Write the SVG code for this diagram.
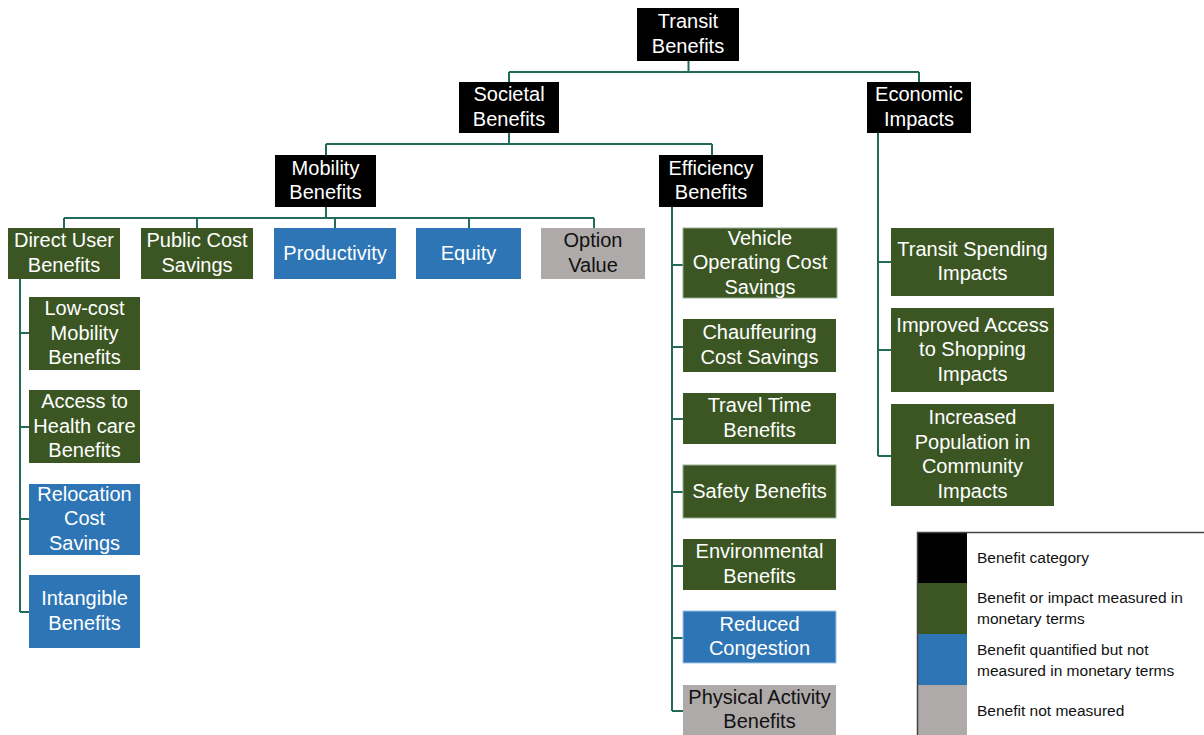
<svg xmlns="http://www.w3.org/2000/svg" width="1204" height="735" viewBox="0 0 1204 735">
<style>
  .blk { fill: #000000; }
  .grn { fill: #3b5623; }
  .blu { fill: #2e75b6; }
  .gry { fill: #aeaaaa; }
  .t { font-family: "Liberation Sans", Arial, sans-serif; font-size: 20px; text-anchor: middle; fill: #ffffff; }
  .td { fill: #111111; }
  .lt { font-family: "Liberation Sans", Arial, sans-serif; font-size: 15.5px; fill: #111111; }
  .conn { fill: none; stroke: #226a5a; stroke-width: 2; }
</style>
<rect x="0" y="0" width="1204" height="735" fill="#ffffff"/>
<g id="connectors" class="conn">
  <path d="M688.5,61 V72 M509,72 H919 M509,72 V82 M919,72 V82"/>
  <path d="M509,133 V144 M326,144 H712 M326,144 V155 M712,144 V155"/>
  <path d="M326,207 V218 M64,218 H594 M64,218 V228 M197,218 V228 M335,218 V228 M469,218 V228 M594,218 V228"/>
  <path d="M20,279 V612 M20,333 H29 M20,427 H29 M20,519 H29 M20,612 H29"/>
  <path d="M672,207 V711 M672,265 H683 M672,347 H683 M672,419 H683 M672,492 H683 M672,566 H683 M672,638 H683 M672,711 H683"/>
  <path d="M878,133 V456 M878,262 H891 M878,350 H891 M878,456 H891"/>
</g>
<g id="transit-benefits"><rect class="blk" x="637" y="8" width="102" height="53"/><text class="t" x="688" y="28.25">Transit</text><text class="t" x="688" y="52.75">Benefits</text></g>
<g id="societal-benefits"><rect class="blk" x="459" y="82" width="100" height="51"/><text class="t" x="509" y="101.25">Societal</text><text class="t" x="509" y="125.75">Benefits</text></g>
<g id="economic-impacts"><rect class="blk" x="867" y="82" width="104" height="51"/><text class="t" x="919" y="101.25">Economic</text><text class="t" x="919" y="125.75">Impacts</text></g>
<g id="mobility-benefits"><rect class="blk" x="275" y="155" width="101" height="52"/><text class="t" x="325.5" y="174.75">Mobility</text><text class="t" x="325.5" y="199.25">Benefits</text></g>
<g id="efficiency-benefits"><rect class="blk" x="659" y="155" width="104" height="52"/><text class="t" x="711" y="174.75">Efficiency</text><text class="t" x="711" y="199.25">Benefits</text></g>
<g id="direct-user-benefits"><rect class="grn" x="8" y="228" width="112" height="51"/><text class="t" x="64" y="247.25">Direct User</text><text class="t" x="64" y="271.75">Benefits</text></g>
<g id="public-cost-savings"><rect class="grn" x="141" y="228" width="112" height="51"/><text class="t" x="197" y="247.25">Public Cost</text><text class="t" x="197" y="271.75">Savings</text></g>
<g id="productivity"><rect class="blu" x="274" y="228" width="122" height="51"/><text class="t" x="335" y="259.5">Productivity</text></g>
<g id="equity"><rect class="blu" x="416" y="228" width="105" height="51"/><text class="t" x="468.5" y="259.5">Equity</text></g>
<g id="option-value"><rect class="gry" x="541" y="228" width="104" height="51"/><text class="t td" x="593" y="247.25">Option</text><text class="t td" x="593" y="271.75">Value</text></g>
<g id="low-cost-mobility"><rect class="grn" x="29" y="297" width="111" height="73"/><text class="t" x="84.5" y="315">Low-cost</text><text class="t" x="84.5" y="339.5">Mobility</text><text class="t" x="84.5" y="364">Benefits</text></g>
<g id="access-health-care"><rect class="grn" x="29" y="390" width="111" height="73"/><text class="t" x="84.5" y="408">Access to</text><text class="t" x="84.5" y="432.5">Health care</text><text class="t" x="84.5" y="457">Benefits</text></g>
<g id="relocation-cost-savings"><rect class="blu" x="29" y="484" width="111" height="71"/><text class="t" x="84.5" y="500.5">Relocation</text><text class="t" x="84.5" y="525">Cost</text><text class="t" x="84.5" y="549.5">Savings</text></g>
<g id="intangible-benefits"><rect class="blu" x="29" y="575" width="111" height="73"/><text class="t" x="84.5" y="605.25">Intangible</text><text class="t" x="84.5" y="629.75">Benefits</text></g>
<g id="vehicle-operating-cost"><rect class="grn" x="683" y="228" width="154" height="70" stroke="#9bb093" stroke-width="1"/><text class="t" x="760" y="244.5">Vehicle</text><text class="t" x="760" y="269">Operating Cost</text><text class="t" x="760" y="293.5">Savings</text></g>
<g id="chauffeuring-cost"><rect class="grn" x="683" y="319" width="153" height="53"/><text class="t" x="759.5" y="339.25">Chauffeuring</text><text class="t" x="759.5" y="363.75">Cost Savings</text></g>
<g id="travel-time"><rect class="grn" x="683" y="393" width="153" height="51"/><text class="t" x="759.5" y="412.25">Travel Time</text><text class="t" x="759.5" y="436.75">Benefits</text></g>
<g id="safety-benefits"><rect class="grn" x="683" y="465" width="153" height="53" stroke="#9bb093" stroke-width="1"/><text class="t" x="759.5" y="497.5">Safety Benefits</text></g>
<g id="environmental-benefits"><rect class="grn" x="683" y="539" width="153" height="51"/><text class="t" x="759.5" y="558.25">Environmental</text><text class="t" x="759.5" y="582.75">Benefits</text></g>
<g id="reduced-congestion"><rect class="blu" x="683" y="611" width="153" height="52" stroke="#9cc3e5" stroke-width="1"/><text class="t" x="759.5" y="630.75">Reduced</text><text class="t" x="759.5" y="655.25">Congestion</text></g>
<g id="physical-activity"><rect class="gry" x="683" y="685" width="153" height="50"/><text class="t td" x="759.5" y="703.75">Physical Activity</text><text class="t td" x="759.5" y="728.25">Benefits</text></g>
<g id="transit-spending"><rect class="grn" x="891" y="228" width="163" height="68"/><text class="t" x="972.5" y="255.75">Transit Spending</text><text class="t" x="972.5" y="280.25">Impacts</text></g>
<g id="improved-access-shopping"><rect class="grn" x="891" y="308" width="163" height="84"/><text class="t" x="972.5" y="331.5">Improved Access</text><text class="t" x="972.5" y="356">to Shopping</text><text class="t" x="972.5" y="380.5">Impacts</text></g>
<g id="increased-population"><rect class="grn" x="891" y="404" width="163" height="102"/><text class="t" x="972.5" y="424.25">Increased</text><text class="t" x="972.5" y="448.75">Population in</text><text class="t" x="972.5" y="473.25">Community</text><text class="t" x="972.5" y="497.75">Impacts</text></g>
<g id="legend">
  <rect x="918" y="532" width="49" height="51" fill="#000000"/>
  <rect x="918" y="583" width="49" height="51" fill="#3b5623"/>
  <rect x="918" y="634" width="49" height="51" fill="#2e75b6"/>
  <rect x="918" y="685" width="49" height="50" fill="#aeaaaa"/>
  <path d="M917,532.5 H1204 M917.5,532 V735" fill="none" stroke="#444444" stroke-width="1.5"/>
  <text class="lt" x="977" y="563">Benefit category</text>
  <text class="lt" x="977" y="603">Benefit or impact measured in</text>
  <text class="lt" x="977" y="624">monetary terms</text>
  <text class="lt" x="977" y="655">Benefit quantified but not</text>
  <text class="lt" x="977" y="676">measured in monetary terms</text>
  <text class="lt" x="977" y="716">Benefit not measured</text>
</g>
</svg>
